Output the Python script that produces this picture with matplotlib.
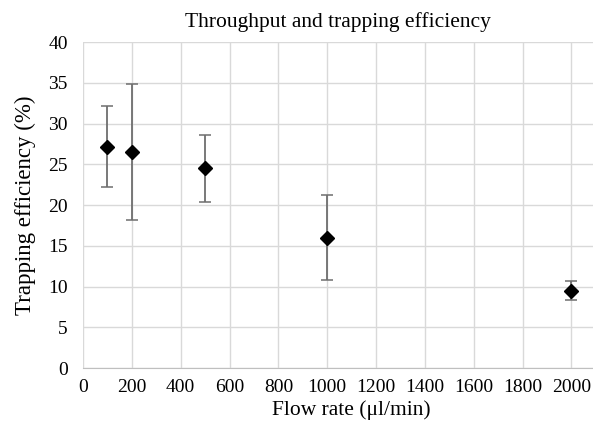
import matplotlib
matplotlib.use("Agg")
import matplotlib.pyplot as plt

plt.rcParams['font.family'] = ['Liberation Serif', 'DejaVu Serif']

flow = [100, 200, 500, 1000, 2000]
eff = [27.15, 26.5, 24.5, 16.0, 9.5]
err_hi = [32.1, 34.9, 28.6, 21.2, 10.7]
err_lo = [22.2, 18.2, 20.4, 10.8, 8.3]

yerr = [[e - lo for e, lo in zip(eff, err_lo)],
        [hi - e for e, hi in zip(eff, err_hi)]]

fig = plt.figure(figsize=(5.93, 4.25), dpi=100)
ax = fig.add_axes([0.140, 0.134, 0.906, 0.767])

ax.errorbar(flow, eff, yerr=yerr, fmt='D', color='black', markersize=7,
            ecolor='#6e6e6e', elinewidth=1.3, capsize=4, capthick=1.1, zorder=3)

ax.set_xlim(0, 2200)
ax.set_ylim(0, 40)
ax.set_xticks(range(0, 2001, 200))
ax.set_yticks(range(0, 41, 5))
ax.grid(True, color='#d9d9d9', linewidth=1)
ax.set_axisbelow(True)
for s in ['top', 'right', 'left']:
    ax.spines[s].set_visible(False)
ax.spines['bottom'].set_color('#bfbfbf')
ax.tick_params(length=0, labelsize=14)
ax.tick_params(axis='y', pad=11)
ax.tick_params(axis='x', pad=8)

ax.set_xlabel('Flow rate (μl/min)', fontsize=15.5, labelpad=3)
ax.set_ylabel('Trapping efficiency (%)', fontsize=16.5, labelpad=9)
fig.text(338 / 593, 1 - 22 / 425, 'Throughput and trapping efficiency',
         ha='center', va='center', fontsize=15.5)

fig.savefig('out.png', dpi=100)
